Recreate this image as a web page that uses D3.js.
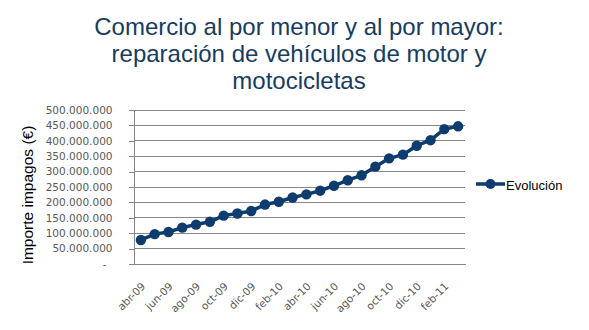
<!DOCTYPE html>
<html><head><meta charset="utf-8">
<script src="https://cdn.jsdelivr.net/npm/d3@7"></script>
<style>body{margin:0;background:#fff}svg{display:block}</style>
</head><body>
<svg id="c" width="589" height="330"></svg>
<script>
const titleLines = ["Comercio al por menor y al por mayor:", "reparación de vehículos de motor y", "motocicletas"];
const months = ["abr-09","may-09","jun-09","jul-09","ago-09","sep-09","oct-09","nov-09","dic-09","ene-10","feb-10","mar-10",
                "abr-10","may-10","jun-10","jul-10","ago-10","sep-10","oct-10","nov-10","dic-10","ene-11","feb-11","mar-11"];
const evolucion = [78e6,97e6,104e6,118e6,128e6,137e6,157e6,164e6,172e6,193e6,202e6,216e6,
                   226e6,238e6,254e6,272e6,288e6,316e6,343e6,355e6,384e6,402e6,438e6,447e6];
const yTicks = [0,50e6,100e6,150e6,200e6,250e6,300e6,350e6,400e6,450e6,500e6];
const seriesName = "Evolución";
const yTitle = "Importe impagos (€)";

const svg = d3.select("#c");
const L = 134, R = 465, T = 110, B = 264;
const col = "#0E3C6E";

svg.append("g").selectAll("text").data(titleLines).join("text")
  .attr("x", 299).attr("y", (d,i) => 35 + i*27)
  .attr("text-anchor","middle")
  .attr("font-family","Liberation Sans, Arial, sans-serif").attr("font-size",24)
  .attr("fill","#173C62").text(d => d);

const x = d3.scaleBand().domain(months).range([L, R]);
const y = d3.scaleLinear().domain([0, 500e6]).range([B, T]);

svg.append("g").selectAll("line").data(yTicks.filter(d => d>0)).join("line")
  .attr("x1", L).attr("x2", R).attr("y1", d => y(d)).attr("y2", d => y(d))
  .attr("stroke","#868686").attr("stroke-width",1).attr("shape-rendering","crispEdges");

const fmt = d => d === 0 ? "-" : d3.format(",")(d).replace(/,/g, ".");
const yAxis = svg.append("g").attr("transform",`translate(${L},0)`)
  .call(d3.axisLeft(y).tickValues(yTicks).tickFormat(fmt).tickSize(5).tickPadding(17));
yAxis.select(".domain").attr("stroke","#868686").attr("shape-rendering","crispEdges");
yAxis.selectAll(".tick line").attr("stroke","#868686").attr("shape-rendering","crispEdges");
yAxis.selectAll("text").attr("font-family","DejaVu Sans, Verdana, sans-serif").attr("font-size",10.5).attr("fill","#595959")
  .attr("dx", d => d === 0 ? -6 : 0);
yAxis.selectAll(".tick text").attr("x", -21.5);

const xAxis = svg.append("g").attr("transform",`translate(0,${B})`)
  .call(d3.axisBottom(x).tickValues(months.filter((d,i) => i%2===0)).tickSize(0).tickPadding(0));
xAxis.select(".domain").attr("stroke","#868686").attr("shape-rendering","crispEdges");
xAxis.selectAll(".tick text")
  .attr("font-family","DejaVu Sans, Verdana, sans-serif").attr("font-size",10.5).attr("fill","#595959")
  .attr("text-anchor","end").attr("dy",0).attr("y",0)
  .attr("transform","translate(5,23) rotate(-45)");

svg.append("text").attr("transform",`translate(33,${195}) rotate(-90)`)
  .attr("text-anchor","middle").attr("font-family","Liberation Sans, Arial, sans-serif")
  .attr("font-size",15.5).attr("fill","#000").text(yTitle);

const cx = (d,i) => x(months[i]) + x.bandwidth()/2;
svg.append("path").datum(evolucion)
  .attr("d", d3.line().x((d,i) => cx(d,i)).y(d => y(d)))
  .attr("fill","none").attr("stroke",col).attr("stroke-width",3.5).attr("stroke-linejoin","round");
svg.append("g").selectAll("circle").data(evolucion).join("circle")
  .attr("cx",(d,i) => cx(d,i)).attr("cy", d => y(d)).attr("r",5.2).attr("fill",col);

const lg = svg.append("g");
lg.append("line").attr("x1",476).attr("x2",505).attr("y1",184).attr("y2",184).attr("stroke",col).attr("stroke-width",3.5);
lg.append("circle").attr("cx",490.5).attr("cy",184).attr("r",5).attr("fill",col);
lg.append("text").attr("x",506).attr("y",189.5).attr("font-family","Liberation Sans, Arial, sans-serif")
  .attr("font-size",13).attr("fill","#000").text(seriesName);
</script>
</body></html>
